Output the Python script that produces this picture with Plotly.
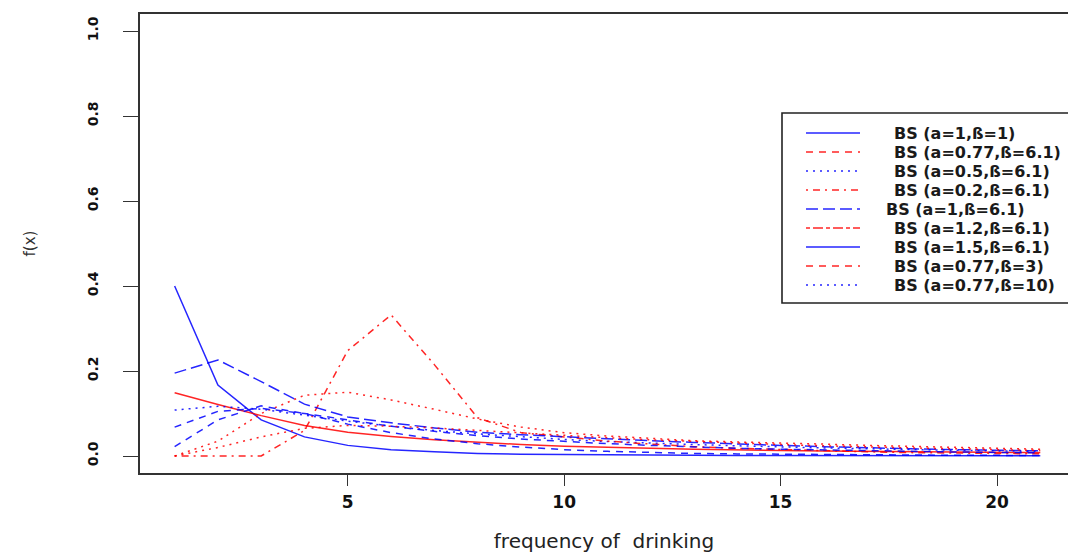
import plotly.graph_objects as go

# ---------------- data ----------------
x_vals = list(range(1, 22))

legend_labels = [
    "BS (a=1,ß=1)",
    "BS (a=0.77,ß=6.1)",
    "BS (a=0.5,ß=6.1)",
    "BS (a=0.2,ß=6.1)",
    "BS (a=1,ß=6.1)",
    "BS (a=1.2,ß=6.1)",
    "BS (a=1.5,ß=6.1)",
    "BS (a=0.77,ß=3)",
    "BS (a=0.77,ß=10)",
]

# curves (f(x) at x = 1..21)
bs_a1_b1 = [0.400, 0.167, 0.085, 0.045, 0.025, 0.015, 0.010, 0.006, 0.004, 0.003,
            0.002, 0.0018, 0.0016, 0.0014, 0.0012, 0.0011, 0.001, 0.0009, 0.0008, 0.0007, 0.0006]
bs_a077_b61 = [0.149, 0.121, 0.095, 0.072, 0.056, 0.046, 0.038, 0.032, 0.027, 0.023,
               0.020, 0.018, 0.016, 0.014, 0.013, 0.012, 0.011, 0.010, 0.009, 0.0085, 0.008]
bs_a05_b61 = [0.108, 0.117, 0.110, 0.096, 0.082, 0.070, 0.060, 0.052, 0.045, 0.039,
              0.034, 0.030, 0.027, 0.024, 0.021, 0.019, 0.017, 0.015, 0.014, 0.012, 0.011]
bs_a02_b61 = [0.0, 0.0, 0.0, 0.060, 0.248, 0.332, 0.215, 0.090, 0.055, 0.045,
              0.035, 0.028, 0.022, 0.018, 0.015, 0.012, 0.010, 0.008, 0.007, 0.006, 0.005]
bs_a1_b61 = [0.195, 0.226, 0.175, 0.122, 0.092, 0.078, 0.066, 0.056, 0.050, 0.045,
             0.040, 0.036, 0.032, 0.028, 0.025, 0.022, 0.019, 0.017, 0.015, 0.013, 0.012]
bs_a12_b61 = [0.0, 0.035, 0.100, 0.143, 0.150, 0.132, 0.110, 0.087, 0.068, 0.055,
              0.047, 0.041, 0.036, 0.033, 0.031, 0.028, 0.025, 0.023, 0.020, 0.018, 0.016]
bs_a15_b61 = [0.068, 0.105, 0.112, 0.100, 0.085, 0.070, 0.058, 0.048, 0.040, 0.034,
              0.029, 0.025, 0.021, 0.018, 0.016, 0.014, 0.012, 0.011, 0.0095, 0.0085, 0.0075]
bs_a077_b3 = [0.0, 0.020, 0.045, 0.065, 0.072, 0.070, 0.066, 0.060, 0.054, 0.048,
              0.043, 0.038, 0.034, 0.030, 0.027, 0.024, 0.021, 0.019, 0.017, 0.015, 0.013]
bs_a077_b10 = [0.022, 0.085, 0.118, 0.100, 0.075, 0.055, 0.040, 0.029, 0.021, 0.015,
               0.011, 0.008, 0.006, 0.005, 0.004, 0.003, 0.0025, 0.002, 0.0017, 0.0015, 0.0013]

series = [bs_a1_b1, bs_a077_b61, bs_a05_b61, bs_a02_b61, bs_a1_b61,
          bs_a12_b61, bs_a15_b61, bs_a077_b3, bs_a077_b10]

y_ticks = [0.0, 0.2, 0.4, 0.6, 0.8, 1.0]
x_ticks = [5, 10, 15, 20]

# ---------------- styles ----------------
BLUE = "#0000ff"
RED = "#ff0000"
DASHED = "7px,6px"
DOTTED = "2px,5px"
DOTDASH = "2px,5px,7px,5px"
LONGDASH = "12px,5px"
TWODASH = "4px,3px,10px,3px"

curve_styles = [
    (BLUE, "solid"), (RED, "solid"), (BLUE, DOTTED), (RED, DOTDASH), (BLUE, LONGDASH),
    (RED, DOTTED), (BLUE, DASHED), (RED, DOTTED), (BLUE, DASHED),
]
legend_styles = [
    (BLUE, "solid"), (RED, DASHED), (BLUE, DOTTED), (RED, DOTDASH), (BLUE, LONGDASH),
    (RED, TWODASH), (BLUE, "solid"), (RED, DASHED), (BLUE, DOTTED),
]

FONT = "DejaVu Sans"
W, H = 1068, 553
ML, MR, MT, MB = 140, 0, 14, 80
PW, PH = W - ML - MR, H - MT - MB


def px(xp):
    return (xp - ML) / PW


def py(yp):
    return (H - MB - yp) / PH


fig = go.Figure()
for name, ys, (col, dash) in zip(legend_labels, series, curve_styles):
    fig.add_trace(go.Scatter(
        x=x_vals, y=ys, mode="lines", name=name,
        line=dict(color=col, width=1.5, dash=dash), opacity=0.85,
        showlegend=False, hoverinfo="skip",
    ))

shapes = []
annotations = []
# legend box (cut off at the right edge like the reference)
shapes.append(dict(type="rect", xref="paper", yref="paper",
                   x0=px(782), x1=px(1090), y0=py(303), y1=py(113),
                   line=dict(color="#222222", width=1.6), fillcolor="white", layer="above"))
for i, (lab, (col, dash)) in enumerate(zip(legend_labels, legend_styles)):
    yc = 133 + 19.0 * i
    shapes.append(dict(type="line", xref="paper", yref="paper",
                       x0=px(806), x1=px(860), y0=py(yc), y1=py(yc),
                       line=dict(color=col, width=1.5, dash=dash), opacity=0.85, layer="above"))
    xt = 885 if i == 4 else 893
    annotations.append(dict(xref="paper", yref="paper", x=px(xt), y=py(yc),
                            xanchor="left", yanchor="middle", showarrow=False,
                            text="<b>" + lab + "</b>", borderpad=0,
                            font=dict(family=FONT, size=16, color="#1a1a1a")))

fig.update_layout(
    width=W, height=H,
    margin=dict(l=ML, r=MR, t=MT, b=MB, pad=0, autoexpand=False),
    paper_bgcolor="white", plot_bgcolor="white",
    shapes=shapes, annotations=annotations,
    font=dict(family=FONT, color="#111111"),
    xaxis=dict(
        range=[0.2, 21.64], tickmode="array", tickvals=x_ticks,
        ticktext=["<b>%d</b>" % v for v in x_ticks],
        showgrid=False, zeroline=False,
        showline=True, mirror=True, linecolor="#333333", linewidth=1.5,
        ticks="outside", ticklen=11, tickwidth=1.2, tickcolor="#333333",
        tickfont=dict(family=FONT, size=17, color="#111111"),
        ticklabelstandoff=2,
        title=dict(text="frequency of\u00a0 drinking", standoff=23,
                   font=dict(family=FONT, size=20, color="#222222")),
        automargin=False,
    ),
    yaxis=dict(
        range=[-0.04, 1.04], tickmode="array", tickvals=y_ticks,
        ticktext=["<b>%.1f</b>" % v for v in y_ticks],
        showgrid=False, zeroline=False,
        showline=True, mirror=False, linecolor="#333333", linewidth=1.5,
        ticks="outside", ticklen=15, tickwidth=1.2, tickcolor="#333333",
        tickangle=-90,
        tickfont=dict(family=FONT, size=14, color="#111111"),
        ticklabelstandoff=20,
        title=dict(text="f(x)", standoff=45,
                   font=dict(family=FONT, size=15, color="#333333")),
        automargin=False,
    ),
)

fig.write_html("out.html")
